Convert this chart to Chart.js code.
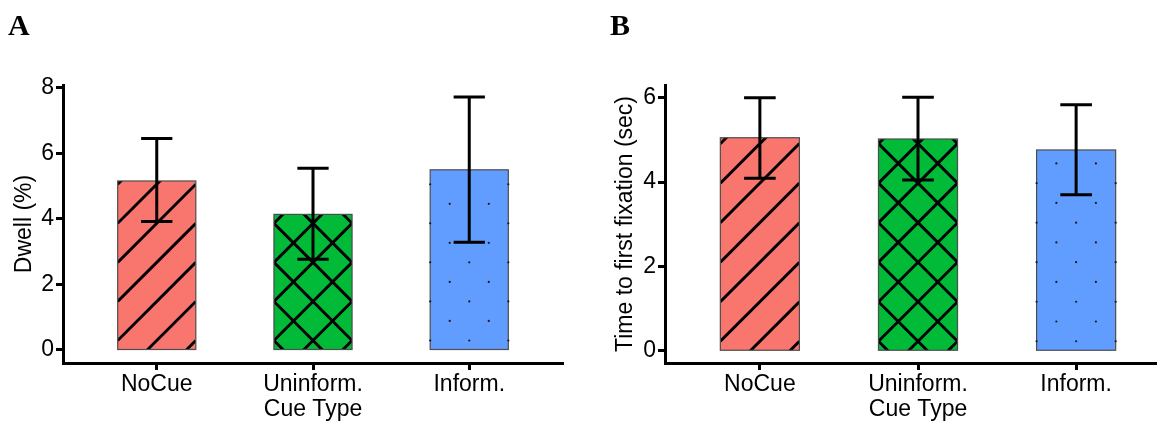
<!DOCTYPE html>
<html><head><meta charset="utf-8">
<script src="https://cdn.jsdelivr.net/npm/chart.js@4.4.1/dist/chart.umd.min.js"></script>
<style>
html,body{margin:0;padding:0;background:#fff;overflow:hidden;width:1157px;height:421px;position:relative;}
#wrapA{position:absolute;left:0;top:0;width:580px;height:421px;}
#wrapB{position:absolute;left:580px;top:0;width:600px;height:421px;}
.lab{position:absolute;font-family:"Liberation Serif","Times New Roman",serif;font-weight:bold;font-size:30px;line-height:30px;color:#000;z-index:2;}
</style></head>
<body>
<div class="lab" style="left:8px;top:10px">A</div>
<div class="lab" style="left:610px;top:10px">B</div>
<div id="wrapA"><canvas id="cA" width="580" height="421"></canvas></div>
<div id="wrapB"><canvas id="cB" width="600" height="421"></canvas></div>
<script>
// ---- data ----
const categories = ['NoCue', 'Uninform.', 'Inform.'];
const dwellMean = [5.16, 4.14, 5.50];
const dwellLow  = [3.92, 2.77, 3.29];
const dwellHigh = [6.46, 5.55, 7.72];
const ttffMean = [5.05, 5.02, 4.76];
const ttffLow  = [4.09, 4.05, 3.70];
const ttffHigh = [6.00, 6.01, 5.83];
const dwellTicks = [0, 2, 4, 6, 8];
const ttffTicks = [0, 2, 4, 6];

// ---- style ----
const barColors = ['#F8766D', '#00BA38', '#619CFF'];
const barPatterns = ['stripe', 'crosshatch', 'dots'];
const FONT = {family: '"Liberation Sans", Arial, sans-serif', size: 23};

const decoPlugin = {
  id: 'deco',
  afterDatasetsDraw(chart, args, opts) {
    const ctx = chart.ctx;
    const meta = chart.getDatasetMeta(0);
    const xs = chart.scales.x, ys = chart.scales.y;
    meta.data.forEach((el, i) => {
      const p = el.getProps(['x', 'y', 'base', 'width'], true);
      const left = p.x - p.width / 2, right = p.x + p.width / 2;
      const top = Math.min(p.y, p.base), bottom = Math.max(p.y, p.base);
      const s = p.width / 2;
      const ax = p.x, ay = bottom - 9;
      const kind = barPatterns[i];
      ctx.save();
      if (kind === 'stripe' || kind === 'crosshatch') {
        ctx.beginPath();
        ctx.rect(left, top, p.width, bottom - top);
        ctx.clip();
        ctx.strokeStyle = '#000';
        ctx.lineWidth = 2.9;
        ctx.lineCap = 'butt';
        const n = Math.ceil((bottom - top + p.width * 2) / s) + 2;
        for (let k = -n; k <= n; k++) {
          ctx.beginPath();
          ctx.moveTo(left, ay - (left - ax) + k * s);
          ctx.lineTo(right, ay - (right - ax) + k * s);
          ctx.stroke();
          if (kind === 'crosshatch') {
            ctx.beginPath();
            ctx.moveTo(left, ay + (left - ax) + k * s);
            ctx.lineTo(right, ay + (right - ax) + k * s);
            ctx.stroke();
          }
        }
      }
      ctx.restore();
      // border
      ctx.save();
      ctx.strokeStyle = '#4d4d4d';
      ctx.lineWidth = 1.2;
      ctx.strokeRect(left, top, p.width, bottom - top);
      ctx.restore();
      if (kind === 'dots') {
        ctx.save();
        ctx.fillStyle = '#1a1a1a';
        const h = s / 2;
        for (let j = -40; j <= 40; j++) {
          const yy = ay + j * h;
          if (yy < top + 1 || yy > bottom) continue;
          for (let q = -2; q <= 2; q++) {
            if ((q + j) % 2 !== 0) continue;
            const xx = ax + q * h;
            ctx.beginPath();
            ctx.arc(xx, yy, 1.1, 0, Math.PI * 2);
            ctx.fill();
          }
        }
        ctx.restore();
      }
    });
    // error bars
    const lo = opts.low, hi = opts.high;
    ctx.save();
    ctx.strokeStyle = '#000';
    ctx.lineWidth = 3;
    ctx.lineCap = 'butt';
    for (let i = 0; i < categories.length; i++) {
      const cx = xs.getPixelForValue(i + 1);
      const c1 = xs.getPixelForValue(i + 1 - 0.1), c2 = xs.getPixelForValue(i + 1 + 0.1);
      const yl = ys.getPixelForValue(lo[i]), yh = ys.getPixelForValue(hi[i]);
      ctx.beginPath();
      ctx.moveTo(cx, yl); ctx.lineTo(cx, yh);
      ctx.moveTo(c1, yl); ctx.lineTo(c2, yl);
      ctx.moveTo(c1, yh); ctx.lineTo(c2, yh);
      ctx.stroke();
    }
    ctx.restore();
  }
};

function makeChart(id, mean, low, high, ticks, yTitle, cfg) {
  return new Chart(document.getElementById(id), {
    type: 'bar',
    data: {
      datasets: [{
        data: mean.map((v, i) => ({x: i + 1, y: v})),
        backgroundColor: barColors,
        borderWidth: 0,
        barPercentage: 0.5,
        categoryPercentage: 1
      }]
    },
    options: {
      responsive: false,
      animation: false,
      devicePixelRatio: 1,
      layout: {padding: {left: 0, right: cfg.padRight, top: 85, bottom: 0}},
      plugins: {legend: {display: false}, tooltip: {enabled: false}, deco: {low: low, high: high}},
      scales: {
        x: {
          type: 'linear', min: 0.4, max: 3.6, offset: false,
          afterBuildTicks: s => { s.ticks = categories.map((c, i) => ({value: i + 1})); },
          ticks: {callback: v => categories[v - 1], font: FONT, color: '#000', padding: 1, maxRotation: 0, autoSkip: false},
          grid: {display: true, offset: false, drawOnChartArea: false, tickLength: 7, tickWidth: 3, tickColor: '#000'},
          border: {display: true, color: '#000', width: 3},
          title: {display: true, text: 'Cue Type', font: Object.assign({}, FONT, {lineHeight: 1}), color: '#000', padding: {top: 0, bottom: 0}},
          afterFit: s => { s.height = 58; }
        },
        y: {
          min: cfg.ymin, max: cfg.ymax,
          afterBuildTicks: s => { s.ticks = ticks.map(v => ({value: v})); },
          ticks: {font: FONT, color: '#000', padding: 2},
          grid: {display: true, drawOnChartArea: false, tickLength: 7, tickWidth: 3, tickColor: '#000'},
          border: {display: true, color: '#000', width: 3},
          title: {display: true, text: yTitle, font: Object.assign({}, FONT, {lineHeight: 1}), color: '#000', padding: {top: cfg.titlePad, bottom: 0}},
          afterFit: s => { s.width = cfg.yw; }
        }
      }
    },
    plugins: [decoPlugin]
  });
}

makeChart('cA', dwellMean, dwellLow, dwellHigh, dwellTicks, 'Dwell (%)',
  {ymin: -0.397, ymax: 8.09, yw: 63, padRight: 17, titlePad: 13});
makeChart('cB', ttffMean, ttffLow, ttffHigh, ttffTicks, 'Time to first fixation (sec)',
  {ymin: -0.29, ymax: 6.30, yw: 85, padRight: 9, titlePad: 34});
</script>
</body></html>
